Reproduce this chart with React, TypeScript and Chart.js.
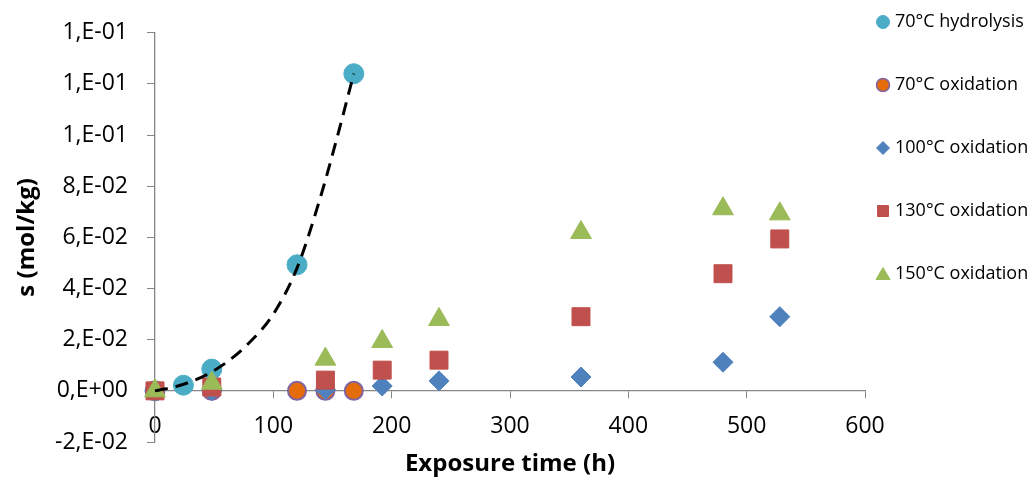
import React, { useEffect, useRef } from "react";
import { Chart, registerables } from "chart.js";

Chart.register(...registerables);

// ---- data ----
const xTickValues = [0, 100, 200, 300, 400, 500, 600];
const xTickLabels = ["0", "100", "200", "300", "400", "500", "600"];
const yTickValues = [-0.02, 0, 0.02, 0.04, 0.06, 0.08, 0.1, 0.12, 0.14];
const yTickLabels = ["-2,E-02", "0,E+00", "2,E-02", "4,E-02", "6,E-02", "8,E-02", "1,E-01", "1,E-01", "1,E-01"];

const seriesNames = ["70°C hydrolysis", "70°C oxidation", "100°C oxidation", "130°C oxidation", "150°C oxidation"];

const hydroTime = [0, 24, 48, 120, 168];
const hydroS = [0, 0.0022, 0.0085, 0.0493, 0.124];

const ox70Time = [0, 48, 120, 144, 168];
const ox70S = [0, 0, 0, 0, 0];

const oxTime = [0, 48, 144, 192, 240, 360, 480, 528];
const ox100S = [0, 0, 0.0005, 0.0019, 0.0039, 0.0054, 0.0112, 0.029];
const ox130S = [0, 0.0015, 0.0042, 0.0081, 0.012, 0.029, 0.0458, 0.0594];
const ox150S = [0, 0.003, 0.0124, 0.0193, 0.0279, 0.0619, 0.0712, 0.0692];

const trendTime = [0, 20, 40, 60, 80, 100, 120, 140, 155, 168];
const trendS = [0, 0.002, 0.0055, 0.011, 0.019, 0.03, 0.048, 0.076, 0.101, 0.124];

const xTitle = "Exposure time (h)";
const yTitle = "s (mol/kg)";

const pts = (xs: number[], ys: number[]) => xs.map((x, i) => ({ x, y: ys[i] }));

const FONT = "'Open Sans', 'DejaVu Sans', sans-serif";
const AXIS_COLOR = "#868686";

const legendPlugin = {
  id: "sideLegend",
  afterDraw(chart: any) {
    const ctx = chart.ctx as CanvasRenderingContext2D;
    const mx = 883;
    const tx = 895;
    const y0 = 22;
    const gap = 63;
    ctx.save();
    ctx.font = `18px ${FONT}`;
    ctx.textBaseline = "middle";
    ctx.textAlign = "left";
    const sets = chart.data.datasets.filter((d: any) => d.legendIndex !== undefined);
    sets.sort((a: any, b: any) => a.legendIndex - b.legendIndex);
    sets.forEach((ds: any, i: number) => {
      const y = y0 + i * gap;
      ctx.fillStyle = ds.backgroundColor;
      ctx.strokeStyle = ds.borderColor;
      ctx.lineWidth = ds.pointBorderWidth > 1 ? 1.5 : 1;
      ctx.beginPath();
      const st = ds.pointStyle;
      if (st === "circle") {
        ctx.arc(mx, y, 6.5, 0, Math.PI * 2);
      } else if (st === "rectRot") {
        ctx.moveTo(mx, y - 6.5);
        ctx.lineTo(mx + 6.5, y);
        ctx.lineTo(mx, y + 6.5);
        ctx.lineTo(mx - 6.5, y);
        ctx.closePath();
      } else if (st === "rect") {
        ctx.rect(mx - 5.5, y - 5.5, 11, 11);
      } else if (st === "triangle") {
        ctx.moveTo(mx, y - 6.5);
        ctx.lineTo(mx + 7, y + 5.5);
        ctx.lineTo(mx - 7, y + 5.5);
        ctx.closePath();
      }
      ctx.fill();
      ctx.stroke();
      ctx.fillStyle = "#000";
      ctx.fillText(ds.label, tx, y);
    });
    ctx.restore();
  },
};

export default function App() {
  const ref = useRef<HTMLCanvasElement | null>(null);

  useEffect(() => {
    if (!ref.current) return;
    const marker = (color: string, border: string, style: string, radius: number, bw: number, order: number, li: number, label: string, data: any[]) => ({
      type: "scatter" as const,
      label,
      data,
      legendIndex: li,
      order,
      backgroundColor: color,
      borderColor: border,
      pointStyle: style,
      pointRadius: radius,
      pointHoverRadius: radius,
      pointBorderWidth: bw,
      pointBackgroundColor: color,
      pointBorderColor: border,
      showLine: false,
      clip: false,
    });

    const chart = new Chart(ref.current, {
      type: "scatter",
      data: {
        datasets: [
          {
            type: "line",
            label: "trend",
            data: pts(trendTime, trendS),
            borderColor: "#000",
            borderWidth: 3,
            borderDash: [13, 8],
            pointRadius: 0,
            fill: false,
            cubicInterpolationMode: "monotone",
            order: 0,
            clip: false,
          } as any,
          marker("#9BBB59", "#9BBB59", "triangle", 12, 1, 1, 4, seriesNames[4], pts(oxTime, ox150S)),
          marker("#C0504D", "#C0504D", "rect", 12.7, 1, 2, 3, seriesNames[3], pts(oxTime, ox130S)),
          marker("#4F81BD", "#4F81BD", "rectRot", 10, 1, 3, 2, seriesNames[2], pts(oxTime, ox100S)),
          marker("#E46C0A", "#8064A2", "circle", 9, 2, 4, 1, seriesNames[1], pts(ox70Time, ox70S)),
          marker("#4BACC6", "#4BACC6", "circle", 10, 1, 5, 0, seriesNames[0], pts(hydroTime, hydroS)),
        ],
      },
      options: {
        animation: false,
        responsive: true,
        maintainAspectRatio: false,
        layout: { padding: { left: 0, top: 27, right: 170, bottom: 40 } },
        plugins: { legend: { display: false }, tooltip: { enabled: false } },
        scales: {
          x: {
            type: "linear",
            min: 0,
            max: 600,
            position: { y: 0 } as any,
            afterBuildTicks: (s: any) => {
              s.ticks = xTickValues.map((v) => ({ value: v }));
            },
            afterFit: (s: any) => {
              s.height = 88;
            },
            grid: { display: true, drawOnChartArea: false, drawTicks: true, tickLength: 7, color: AXIS_COLOR, lineWidth: 1 },
            border: { display: true, color: AXIS_COLOR, width: 1.3 },
            ticks: {
              padding: 15,
              color: "#000",
              font: { family: FONT, size: 23 },
              maxRotation: 0,
              callback: (_v: any, i: number) => xTickLabels[i],
            },
            title: { display: true, text: xTitle, color: "#000", font: { family: FONT, size: 24, weight: "bold" }, padding: 0 },
          },
          y: {
            type: "linear",
            min: -0.02,
            max: 0.14,
            position: "left",
            afterBuildTicks: (s: any) => {
              s.ticks = yTickValues.map((v) => ({ value: v }));
            },
            afterFit: (s: any) => {
              s.width = 155;
            },
            grid: { display: true, drawOnChartArea: false, drawTicks: true, tickLength: 8, color: AXIS_COLOR, lineWidth: 1 },
            border: { display: true, color: AXIS_COLOR, width: 1.3 },
            ticks: {
              padding: 19,
              color: "#000",
              font: { family: FONT, size: 23 },
              callback: (_v: any, i: number) => yTickLabels[i],
            },
            title: { display: true, text: yTitle, color: "#000", font: { family: FONT, size: 24, weight: "bold" }, padding: { top: 13, bottom: 0 } },
          },
        },
      },
      plugins: [legendPlugin],
    } as any);

    return () => chart.destroy();
  }, []);

  return (
    <div style={{ position: "absolute", left: 0, top: 0, width: 1035, height: 482, background: "#fff" }}>
      <canvas ref={ref} />
    </div>
  );
}
